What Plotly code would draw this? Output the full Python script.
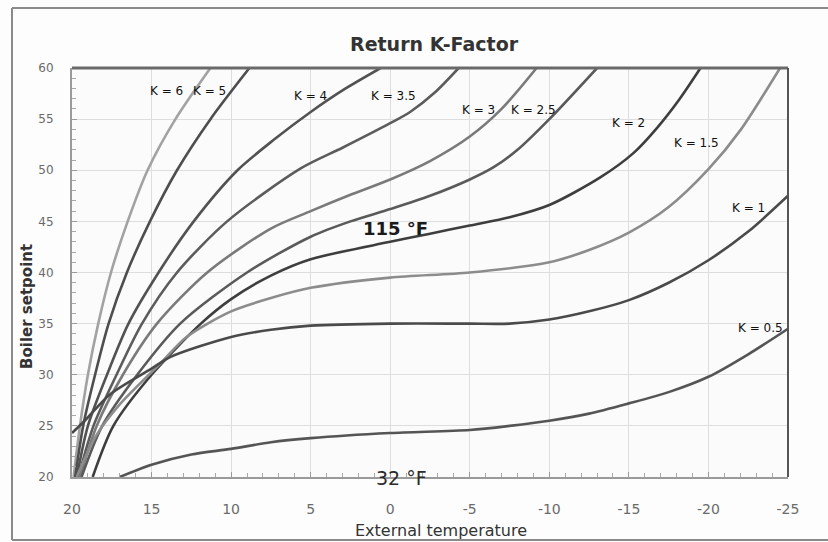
import plotly.graph_objects as go

# curves (x = external temperature, y = boiler setpoint)
k6_x = [19.9, 19.5, 19.0, 18.35, 17.55, 16.5, 15.25, 13.5, 11.3]
k6_y = [20, 25, 30, 35, 40, 45, 50, 55, 60]

k5_x = [19.8, 19.3, 18.55, 17.7, 16.55, 15.1, 13.4, 11.3, 8.85]
k5_y = [20, 25, 30, 35, 40, 45, 50, 55, 60]

k4_x = [19.7, 19.0, 17.8, 16.45, 14.56, 12.35, 9.6, 7.3, 5.0, 2.8, 0.6]
k4_y = [20, 25, 30, 35, 40, 45, 50, 53.0, 55.7, 58.0, 60]

k35_x = [19.6, 18.65, 17.2, 15.6, 13.4, 10.25, 5.6, 3.0, 0.0, -1.25, -2.8, -4.3]
k35_y = [20, 25, 30, 35, 40, 45, 50.2, 52.2, 54.6, 55.7, 57.6, 60]

k3_x = [19.5, 18.45, 16.8, 14.66, 11.5, 7.5, 5.0, 2.5, 0.0, -2.5, -5.0, -7.0, -9.2]
k3_y = [20, 25, 30, 35, 40, 44.3, 46.0, 47.6, 49.1, 50.9, 53.3, 56.0, 60]

k25_x = [19.4, 18.1, 15.9, 13.2, 9.0, 5.0, 2.5, 0.0, -2.5, -5.0, -6.5, -8.0, -10.0, -13.0]
k25_y = [20, 25, 30, 35, 40, 43.5, 45.0, 46.2, 47.5, 49.1, 50.3, 52.0, 55.0, 60]

k2_x = [18.7, 17.4, 15.0, 11.9, 10.0, 7.5, 5.0, 0.0, -2.5, -5.0, -7.5, -10.0, -13.2, -15.3, -16.8, -18.2, -19.5]
k2_y = [20, 25, 30, 35, 37.4, 39.7, 41.3, 43.0, 43.8, 44.6, 45.4, 46.6, 49.3, 51.7, 54.2, 57.0, 60]

k15_x = [19.7, 18.5, 17.0, 14.45, 12.8, 10.0, 7.5, 5.0, 0.0, -5.0, -10.0, -12.5, -15.0, -17.5, -20.0, -22.0, -24.5]
k15_y = [20, 24.0, 27.1, 31.1, 33.7, 36.2, 37.5, 38.5, 39.5, 40.0, 41.0, 42.2, 43.9, 46.4, 50.1, 53.9, 60]

k1_x = [20.0, 19.2, 17.6, 15.0, 13.8, 10.0, 7.5, 5.0, 0.0, -5.0, -7.5, -10.0, -12.5, -15.0, -17.5, -20.0, -22.5, -25.0]
k1_y = [24.3, 25.5, 28.1, 30.6, 31.75, 33.7, 34.4, 34.8, 35.0, 35.0, 35.0, 35.4, 36.2, 37.3, 39.0, 41.2, 44.0, 47.5]

k05_x = [17.0, 15.0, 12.5, 10.0, 7.5, 5.0, 0.0, -5.0, -7.5, -10.0, -12.5, -15.0, -17.5, -20.0, -22.5, -25.0]
k05_y = [20, 21.2, 22.2, 22.75, 23.4, 23.8, 24.3, 24.6, 25.0, 25.5, 26.2, 27.2, 28.3, 29.8, 32.0, 34.5]

x_tickvals = [20, 15, 10, 5, 0, -5, -10, -15, -20, -25]
x_ticktext = ["20", "15", "10", "5", "0", "-5", "-10", "-15", "-20", "-25"]

curves = [
    ("K = 6", k6_x, k6_y, "#a2a2a2"),
    ("K = 5", k5_x, k5_y, "#4e4e4e"),
    ("K = 4", k4_x, k4_y, "#525252"),
    ("K = 3.5", k35_x, k35_y, "#5c5c5c"),
    ("K = 3", k3_x, k3_y, "#7a7a7a"),
    ("K = 2.5", k25_x, k25_y, "#5a5a5a"),
    ("K = 2", k2_x, k2_y, "#3e3e3e"),
    ("K = 1.5", k15_x, k15_y, "#8c8c8c"),
    ("K = 1", k1_x, k1_y, "#4a4a4a"),
    ("K = 0.5", k05_x, k05_y, "#555555"),
]

# label anchor points (data coordinates)
label_pos = {
    "K = 6": (14.03, 57.75),
    "K = 5": (11.33, 57.75),
    "K = 4": (5.04, 57.25),
    "K = 3.5": (-0.18, 57.25),
    "K = 3": (-5.52, 55.9),
    "K = 2.5": (-8.98, 55.9),
    "K = 2": (-14.95, 54.6),
    "K = 1.5": (-19.22, 52.65),
    "K = 1": (-22.49, 46.27),
    "K = 0.5": (-23.24, 34.6),
}

FONT = "DejaVu Sans, Verdana, sans-serif"

fig = go.Figure()
for name, xs, ys, col in curves:
    fig.add_trace(go.Scatter(
        x=xs, y=ys, mode="lines", name=name,
        line=dict(color=col, width=2.6, shape="spline", smoothing=0.8),
        hoverinfo="skip", showlegend=False,
    ))

annotations = []
for name, (ax, ay) in label_pos.items():
    annotations.append(dict(
        x=ax, y=ay, text=name, showarrow=False, xanchor="center", yanchor="middle",
        font=dict(family=FONT, size=12, color="#111111"),
    ))


def px2paper(px, py):
    # plot area spans page x 72..788, y 68..477
    return (px - 72) / 716, (477 - py) / 409


def paper_note(px, py, text, size, bold=False, angle=0, color="#333333"):
    x, y = px2paper(px, py)
    return dict(
        x=x, y=y, xref="paper", yref="paper",
        text=f"<b>{text}</b>" if bold else text, textangle=angle,
        showarrow=False, xanchor="center", yanchor="middle",
        font=dict(family=FONT, size=size, color=color),
    )


annotations += [
    dict(x=-0.36, y=44.3, text="<b>115 °F</b>", showarrow=False,
         xanchor="center", yanchor="middle",
         font=dict(family=FONT, size=18, color="#1a1a1a")),
    paper_note(401, 478, "32 °F", 19, color="#2a2a2a"),
    paper_note(434, 44, "Return K-Factor", 19, bold=True),
    paper_note(27, 307, "Boiler setpoint", 15, bold=True, angle=-90),
    paper_note(441, 530, "External temperature", 16),
]

fl, ft = px2paper(12, 8)
fr, fb = px2paper(830, 540)
frame = dict(color="#8a8a8a", width=2)
shapes = [
    # outer frame: left, top and bottom edges (right side runs off the page)
    dict(type="line", xref="paper", yref="paper", x0=fl, x1=fl, y0=fb, y1=ft, line=frame),
    dict(type="line", xref="paper", yref="paper", x0=fl, x1=fr, y0=ft, y1=ft, line=frame),
    dict(type="line", xref="paper", yref="paper", x0=fl, x1=fr, y0=fb, y1=fb, line=frame),
    # top and right plot edges
    dict(type="line", xref="paper", yref="paper", x0=0, x1=1, y0=1, y1=1,
         line=dict(color="#6a6a6a", width=3)),
    dict(type="line", xref="paper", yref="paper", x0=1, x1=1, y0=0, y1=1,
         line=dict(color="#555555", width=2)),
]

fig.update_layout(
    width=828, height=542,
    margin=dict(l=72, r=40, t=68, b=65),
    paper_bgcolor="#fdfdfd",
    plot_bgcolor="#fbfbfb",
    annotations=annotations,
    shapes=shapes,
)
fig.update_xaxes(
    range=[20, -25], tickvals=x_tickvals, ticktext=x_ticktext,
    showgrid=True, gridcolor="#dedede", gridwidth=1,
    showline=True, linecolor="#9a9a9a", linewidth=2,
    ticks="inside", ticklen=5, tickcolor="#9a9a9a",
    minor=dict(ticks="inside", dtick=1, ticklen=4, tickcolor="#a8a8a8", showgrid=False),
    ticklabelstandoff=18,
    tickfont=dict(family=FONT, size=14, color="#6a6a6a"),
    zeroline=False,
)
fig.update_yaxes(
    range=[20, 60], dtick=5,
    showgrid=True, gridcolor="#dedede", gridwidth=1,
    showline=True, linecolor="#9a9a9a", linewidth=2,
    ticks="inside", ticklen=5, tickcolor="#9a9a9a",
    minor=dict(ticks="inside", dtick=1, ticklen=4, tickcolor="#a8a8a8", showgrid=False),
    ticklabelstandoff=14,
    tickfont=dict(family=FONT, size=12, color="#6a6a6a"),
    zeroline=False,
)

# drop the default 8px page margin so the figure fills the window without scrollbars
fig.write_html(
    "out.html",
    config={"displayModeBar": False},
    post_script="document.body.style.margin='0';document.body.style.overflow='hidden';",
)
